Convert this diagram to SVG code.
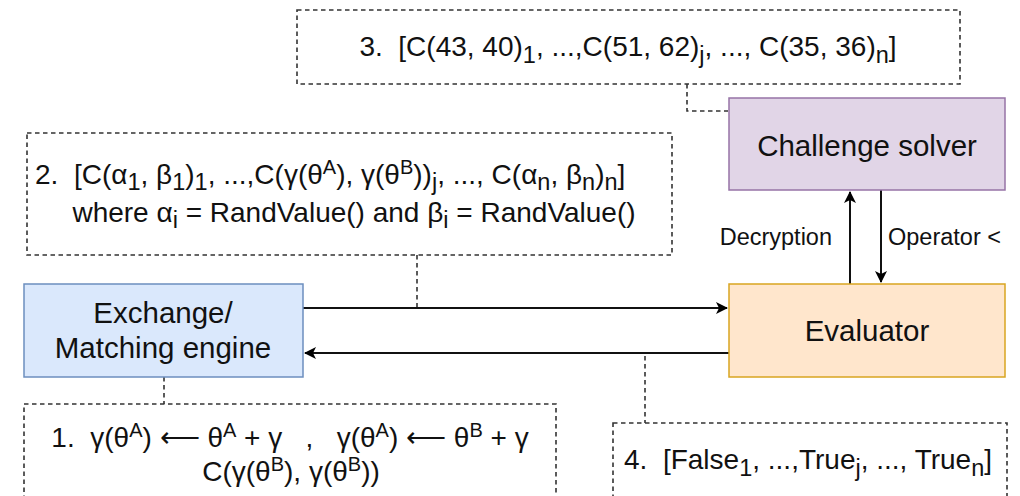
<svg xmlns="http://www.w3.org/2000/svg" width="1020" height="496" viewBox="0 0 1020 496">
<defs>
<marker id="arr" viewBox="0 0 12 12" refX="11" refY="6" markerWidth="12" markerHeight="12" markerUnits="userSpaceOnUse" orient="auto">
<path d="M0,0 L12,6 L0,12 L3,6 Z" fill="#000"/>
</marker>
</defs>
<style>
text{font-family:"Liberation Sans",Arial,sans-serif;fill:#111;white-space:pre;}
.big{font-size:29.5px;}
.mid{font-size:28px;}
.lbl{font-size:23.5px;}
.dash{fill:none;stroke:#333;stroke-width:1.6;stroke-dasharray:4.5 3.5;}
.edge{fill:none;stroke:#111;stroke-width:2;}
.sub{font-size:23.5px;}
.sup{font-size:20px;}
</style>
<rect width="1020" height="496" fill="#fff"/>
<g id="connectors">
<path class="dash" d="M687,84 V111 H728"/>
<path class="dash" d="M417,255 V307"/>
<path class="dash" d="M164,377 V404"/>
<path class="dash" d="M645,356 V423"/>
<path class="edge" d="M303,308 H727" marker-end="url(#arr)"/>
<path class="edge" d="M729,353 H305" marker-end="url(#arr)"/>
<path class="edge" d="M850,284 V192" marker-end="url(#arr)"/>
<path class="edge" d="M881,190 V282" marker-end="url(#arr)"/>
<text class="lbl" x="832" y="245" text-anchor="end">Decryption</text>
<text class="lbl" x="888" y="245">Operator &lt;</text>
</g>
<g id="note3">
<rect class="dash" x="297" y="10" width="663" height="74"/>
<text class="mid" x="628" y="56" text-anchor="middle" xml:space="preserve">3.  [C(43, 40)<tspan class="sub" dy="7">1</tspan><tspan dy="-7">, ...,C(51, 62)</tspan><tspan class="sub" dy="7">j</tspan><tspan dy="-7">, ..., C(35, 36)</tspan><tspan class="sub" dy="7">n</tspan><tspan dy="-7">]</tspan></text>
</g>
<g id="challenge">
<rect x="729" y="98" width="276" height="92" fill="#e1d5e7" stroke="#9673a6" stroke-width="1.5"/>
<text class="big" x="867" y="156" text-anchor="middle">Challenge solver</text>
</g>
<g id="note2">
<rect class="dash" x="27" y="133" width="645" height="122"/>
<text class="mid" x="35" y="184" xml:space="preserve">2.  [C(α<tspan class="sub" dy="6">1</tspan><tspan dy="-6">, β</tspan><tspan class="sub" dy="6">1</tspan><tspan dy="-6">)</tspan><tspan class="sub" dy="6">1</tspan><tspan dy="-6">, ...,C(γ(θ</tspan><tspan class="sup" dy="-10">A</tspan><tspan dy="10">), γ(θ</tspan><tspan class="sup" dy="-10">B</tspan><tspan dy="10">))</tspan><tspan class="sub" dy="6">j</tspan><tspan dy="-6">, ..., C(α</tspan><tspan class="sub" dy="6">n</tspan><tspan dy="-6">, β</tspan><tspan class="sub" dy="6">n</tspan><tspan dy="-6">)</tspan><tspan class="sub" dy="6">n</tspan><tspan dy="-6">]</tspan></text>
<text class="mid" x="354" y="222" text-anchor="middle" xml:space="preserve">where α<tspan class="sub" dy="6">i</tspan><tspan dy="-6"> = RandValue() and β</tspan><tspan class="sub" dy="6">i</tspan><tspan dy="-6"> = RandValue()</tspan></text>
</g>
<g id="exchange">
<rect x="24" y="284" width="279" height="93" fill="#dae8fc" stroke="#6c8ebf" stroke-width="1.5"/>
<text class="big" x="163" y="323" text-anchor="middle">Exchange/</text>
<text class="big" x="163" y="358" text-anchor="middle">Matching engine</text>
</g>
<g id="evaluator">
<rect x="729" y="284" width="276" height="93" fill="#ffe6cc" stroke="#d9a520" stroke-width="1.5"/>
<text class="big" x="867" y="341" text-anchor="middle">Evaluator</text>
</g>
<g id="note1">
<rect class="dash" x="24" y="404" width="532" height="100"/>
<text class="mid" x="290" y="447" text-anchor="middle" xml:space="preserve">1.  γ(θ<tspan class="sup" dy="-10">A</tspan><tspan dy="10">) ⟵ θ</tspan><tspan class="sup" dy="-10">A</tspan><tspan dy="10"> + γ   ,   γ(θ</tspan><tspan class="sup" dy="-10">A</tspan><tspan dy="10">) ⟵ θ</tspan><tspan class="sup" dy="-10">B</tspan><tspan dy="10"> + γ</tspan></text>
<text class="mid" x="291" y="481" text-anchor="middle" xml:space="preserve">C(γ(θ<tspan class="sup" dy="-10">B</tspan><tspan dy="10">), γ(θ</tspan><tspan class="sup" dy="-10">B</tspan><tspan dy="10">))</tspan></text>
</g>
<g id="note4">
<rect class="dash" x="613" y="423" width="394" height="80"/>
<text class="mid" x="624" y="469" xml:space="preserve">4.  [False<tspan class="sub" dy="7">1</tspan><tspan dy="-7">, ...,True</tspan><tspan class="sub" dy="7">j</tspan><tspan dy="-7">, ..., True</tspan><tspan class="sub" dy="7">n</tspan><tspan dy="-7">]</tspan></text>
</g>
</svg>
